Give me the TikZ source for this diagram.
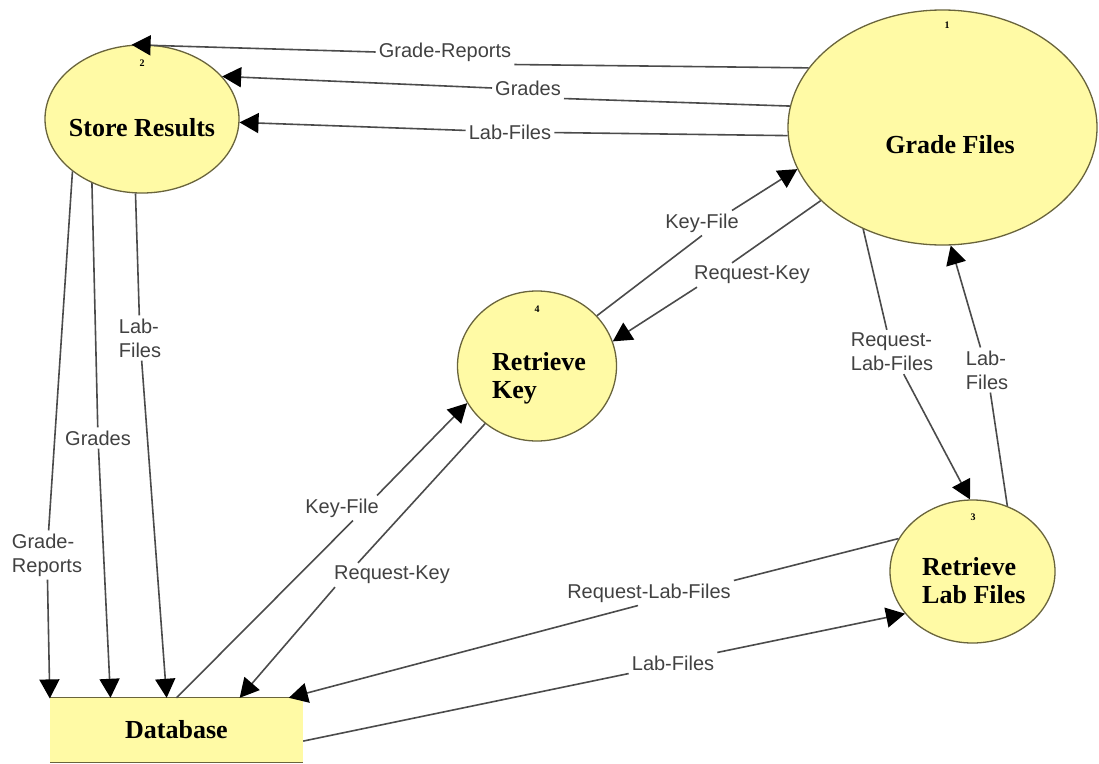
\documentclass[tikz,border=0pt]{standalone}
\usepackage{fontspec}
\setmainfont{Liberation Serif}
\newfontfamily\flowfont{Liberation Sans}
\usetikzlibrary{arrows.meta,shapes.geometric}
\definecolor{bubblefill}{RGB}{255,250,165}
\definecolor{bubbleline}{RGB}{105,100,60}
\definecolor{flowgray}{RGB}{75,75,75}
\definecolor{taggray}{RGB}{65,65,65}

\begin{document}
\begin{tikzpicture}[x=1pt, y=-1pt,
  bubble/.style={ellipse, draw=bubbleline, line width=1.3pt, fill=bubblefill, inner sep=0pt},
  proctext/.style={font=\fontsize{26}{28}\selectfont\bfseries, inner sep=0pt, align=left},
  procnum/.style={font=\fontsize{10}{10}\selectfont\bfseries, inner sep=0pt},
  flowtag/.style={font=\flowfont\fontsize{20}{24}\selectfont, text=taggray, inner sep=3pt, align=left},
  flow/.style={draw=flowgray, line width=1.6pt, -{Triangle[length=19pt,width=20pt,color=black]}}]

\useasboundingbox (0,0) rectangle (1099,763);

\node[bubble, minimum width=194pt, minimum height=148pt] (sr) at (142,119) {};
\node[bubble, minimum width=309pt, minimum height=235pt] (gf) at (942.5,127.5) {};
\node[bubble, minimum width=159pt, minimum height=150pt] (rk) at (537,366) {};
\node[bubble, minimum width=165pt, minimum height=143pt] (rl) at (972.5,571.5) {};
\node[rectangle, fill=bubblefill, minimum width=253pt, minimum height=64pt, proctext] (db) at (176.5,730) {Database};
\draw[bubbleline, line width=1.3pt] (db.north west) -- (db.north east) (db.south west) -- (db.south east);

\node[procnum] (n2) at (142,63) {2};
\node[procnum] (n1) at (947,25) {1};
\node[procnum] (n4) at (537,309) {4};
\node[procnum] (n3) at (973,517) {3};

\node[proctext] (srt) at (142,128) {Store Results};
\node[proctext] (gft) at (950,145) {Grade Files};
\node[proctext, anchor=west] (rkt) at (492,378) {Retrieve\\Key};
\node[proctext, anchor=west] (rlt) at (922,581) {Retrieve\\Lab Files};

\node[flowtag] (lGR) at (445,52) {Grade-Reports};
\node[flowtag] (lG) at (528,88) {Grades};
\node[flowtag] (lLF) at (510,132) {Lab-Files};
\node[flowtag] (lKF) at (702,223) {Key-File};
\node[flowtag] (lRK) at (752,275) {Request-Key};
\node[flowtag] (lRLF) at (892,352) {Request-\\Lab-Files};
\node[flowtag] (lLFb) at (987,370) {Lab-\\Files};
\node[flowtag] (lKFb) at (342,508) {Key-File};
\node[flowtag] (lRKb) at (392,575) {Request-Key};
\node[flowtag] (lRLFb) at (649,593) {Request-Lab-Files};
\node[flowtag] (lLFc) at (673,663) {Lab-Files};
\node[flowtag] (lGRd) at (47,555) {Grade-\\Reports};
\node[flowtag] (lGd) at (98,438) {Grades};
\node[flowtag] (lLFd) at (140,338) {Lab-\\Files};

\draw[flow] (gf.156) -- (lGR.south east) (lGR.west) -- (sr.98);
\draw[flow] (gf.172) -- (lG.south east) (lG.west) -- (sr.28);
\draw[flow] (gf.183) -- (lLF) -- (sr.358);
\draw[flow] (rk.40) -- (lKF.south) ([xshift=30pt]lKF.north) -- (gf.196);
\draw[flow] (gf.211) -- ([xshift=-20pt]lRK.north) ([xshift=-55pt]lRK.south) -- (rk.18);
\draw[flow] (gf.232) -- (lRLF) -- (rl.92);
\draw[flow] (rl.62) -- (lLFb) -- (gf.274);
\draw[flow] (db.90) -- ([xshift=11pt]lKFb.south) ([xshift=35pt]lKFb.north) -- (rk.208);
\draw[flow] (rk.228) -- ([xshift=-34pt]lRKb.north) ([xshift=-57pt]lRKb.south) -- (db.27);
\draw[flow] (rl.156) -- (lRLFb.north east) ([xshift=-11pt]lRLFb.south) -- (db.16);
\draw[flow] (db.355) -- (lLFc.south west) (lLFc.north east) -- (rl.212);
\draw[flow] (sr.217) -- (lGRd) -- (db.166);
\draw[flow] (sr.232) -- (lGd) -- (db.154);
\draw[flow] (sr.265) -- (lLFd) -- (db.107);

\end{tikzpicture}
\end{document}
